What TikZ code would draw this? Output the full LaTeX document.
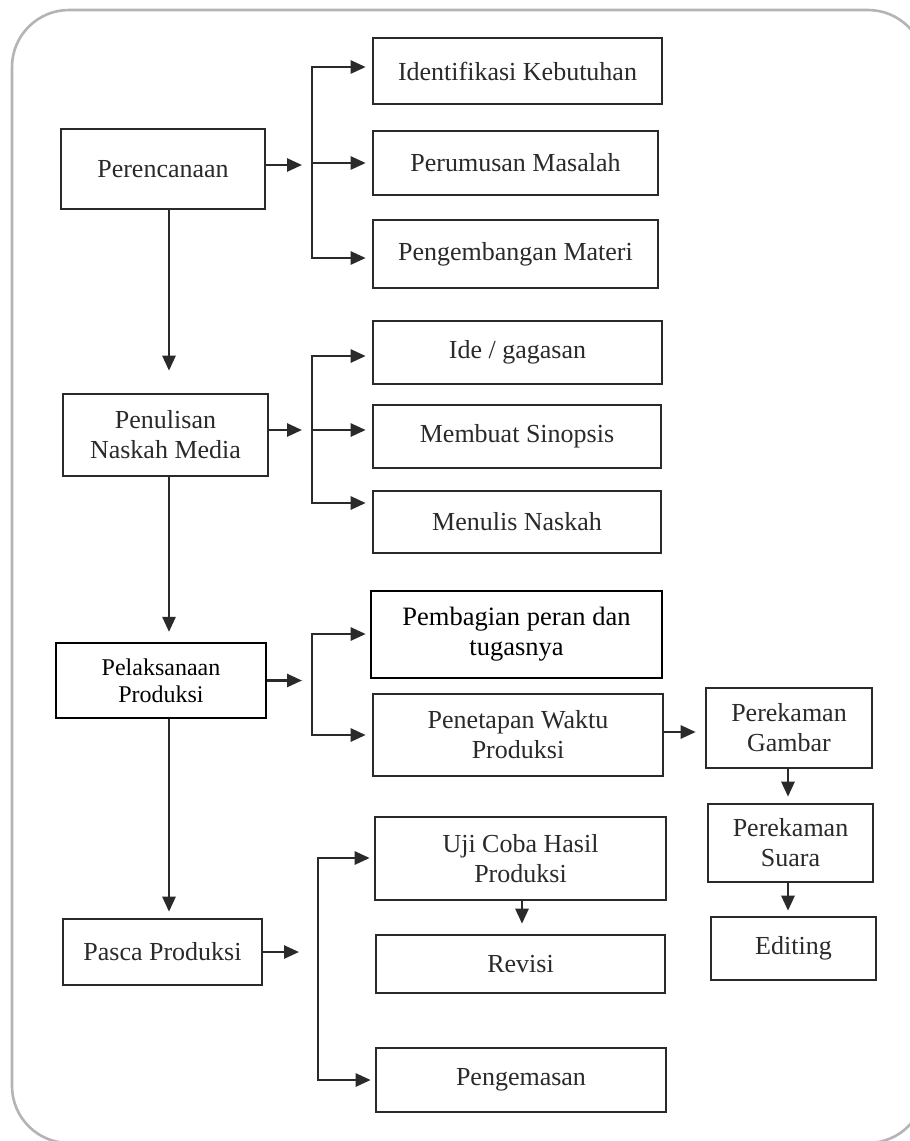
\documentclass[tikz,border=0pt]{standalone}
\usepackage{fontspec}
\setmainfont{Liberation Serif}
\usetikzlibrary{arrows.meta}
\definecolor{ink}{HTML}{2A2A2A}
\definecolor{framec}{HTML}{B4B4B4}
\begin{document}
\begin{tikzpicture}[x=0.5pt,y=-0.5pt,
  box/.style={draw=ink, line width=1.3pt, text=ink, align=center, inner sep=0pt,
    font=\fontsize{13}{15}\selectfont},
  crisp/.style={draw=black, text=black},
  arr/.style={draw=ink, line width=1.3pt, -{Triangle[length=7.5pt,width=6.5pt]}},
  bus/.style={draw=ink, line width=1.3pt}]
\clip (0,0) rectangle (910,1141);
\fill[white] (0,0) rectangle (910,1141);
\draw[framec, line width=1.3pt, rounded corners=28.5pt] (12,10) rectangle (925,1143);

% column coordinates
\coordinate (bx1) at (312,0);
\coordinate (bx4) at (318,0);
\coordinate (mx) at (169,0);
\coordinate (sx) at (788,0);
\coordinate (ux) at (522,0);

% main column
\node[box, minimum width=102pt, minimum height=40pt] (per) at (163,169) {Perencanaan};
\node[box, minimum width=102.5pt, minimum height=41pt] (pen) at (165.5,435) {Penulisan\\Naskah Media};
\node[box, crisp, line width=1.1pt, minimum width=105pt, minimum height=37.5pt,
  font=\fontsize{12}{13.5}\selectfont] (pel) at (161,680.5) {Pelaksanaan\\Produksi};
\node[box, minimum width=99.5pt, minimum height=33pt] (pas) at (162.5,952) {Pasca Produksi};

% planning
\node[box, minimum width=144.5pt, minimum height=33pt] (idn) at (517.5,71) {Identifikasi Kebutuhan};
\node[box, minimum width=142.5pt, minimum height=32pt] (prm) at (515.5,163) {Perumusan Masalah};
\node[box, minimum width=142.5pt, minimum height=34pt] (pgm) at (515.5,254) {Pengembangan Materi};

% script
\node[box, minimum width=144.5pt, minimum height=31.5pt] (ide) at (517.5,352.5) {Ide / gagasan};
\node[box, minimum width=144pt, minimum height=31.5pt] (mbs) at (517,436.5) {Membuat Sinopsis};
\node[box, minimum width=144pt, minimum height=31pt] (mnl) at (517,522) {Menulis Naskah};

% production
\node[box, crisp, line width=1.3pt, minimum width=145.5pt, minimum height=43.5pt,
  font=\fontsize{13.25}{15}\selectfont] (pbg) at (516.5,634.5) {Pembagian peran dan\\tugasnya};
\node[box, minimum width=145pt, minimum height=41pt] (ptw) at (518,735) {Penetapan Waktu\\Produksi};
\node[box, minimum width=83pt, minimum height=40pt] (pgb) at (789,728) {Perekaman\\Gambar};
\node[box, minimum width=82.5pt, minimum height=39pt] (psr) at (790.5,843) {Perekaman\\Suara};
\node[box, minimum width=82.5pt, minimum height=31.5pt] (edt) at (793.5,948.5) {Editing};

% post production
\node[box, minimum width=145.5pt, minimum height=41.5pt] (uji) at (520.5,858.5) {Uji Coba Hasil\\Produksi};
\node[box, minimum width=144.5pt, minimum height=29pt] (rev) at (520.5,964) {Revisi};
\node[box, minimum width=145pt, minimum height=32pt] (pkm) at (521,1080) {Pengemasan};

% arrow heights
\coordinate (aper) at ([yshift=2pt]per.east);
\coordinate (apen) at ([yshift=2.5pt]pen.east);
\coordinate (aidn) at ([yshift=2pt]idn.west);
\coordinate (aprm) at (prm.west);
\coordinate (apgm) at ([yshift=-2pt]pgm.west);
\coordinate (aide) at ([yshift=-1.75pt]ide.west);
\coordinate (ambs) at ([yshift=3.25pt]mbs.west);
\coordinate (amnl) at ([yshift=9.5pt]mnl.west);
\coordinate (aptw) at ([yshift=1.5pt]ptw.east);
\coordinate (apbg) at ([yshift=0.25pt]pbg.west);
\coordinate (auji) at ([yshift=0.25pt]uji.west);

% main down arrows
\draw[arr, shorten >=11pt] (per.south -| mx) -- (pen.north -| mx);
\draw[arr, shorten >=5pt] (pen.south -| mx) -- (pel.north -| mx);
\draw[arr, shorten >=3pt] (pel.south -| mx) -- (pas.north -| mx);

% planning branches
\draw[arr, shorten >=5pt] (aper) -- (aper -| bx1);
\draw[arr, shorten >=3pt] (apgm -| bx1) -- (aidn -| bx1) -- (aidn);
\draw[arr, shorten >=3pt] (aidn -| bx1) -- (apgm -| bx1) -- (apgm);
\draw[arr, shorten >=3pt] (aprm -| bx1) -- (aprm);

% script branches
\draw[arr, shorten >=5pt] (apen) -- (apen -| bx1);
\draw[arr, shorten >=3pt] (amnl -| bx1) -- (aide -| bx1) -- (aide);
\draw[arr, shorten >=3pt] (aide -| bx1) -- (amnl -| bx1) -- (amnl);
\draw[arr, shorten >=3pt] (ambs -| bx1) -- (ambs);

% production branches
\draw[arr, shorten >=5pt] (pel.east) -- (pel.east -| bx1);
\draw[arr, shorten >=2pt] (ptw.west -| bx1) -- (apbg -| bx1) -- (apbg);
\draw[arr, shorten >=3pt] (apbg -| bx1) -- (ptw.west -| bx1) -- (ptw.west);
\draw[arr, shorten >=4.5pt] (aptw) -- (aptw -| pgb.west);
\draw[arr, shorten >=3pt] (pgb.south -| sx) -- (psr.north -| sx);
\draw[arr, shorten >=2.5pt] (psr.south -| sx) -- (edt.north -| sx);

% post production branches
\draw[arr, shorten >=9.5pt] (pas.east) -- (pas.east -| bx4);
\draw[arr, shorten >=2pt] (pkm.west -| bx4) -- (auji -| bx4) -- (auji);
\draw[arr, shorten >=2pt] (auji -| bx4) -- (pkm.west -| bx4) -- (pkm.west);
\draw[arr, shorten >=5pt] (uji.south -| ux) -- (rev.north -| ux);
\end{tikzpicture}
\end{document}
